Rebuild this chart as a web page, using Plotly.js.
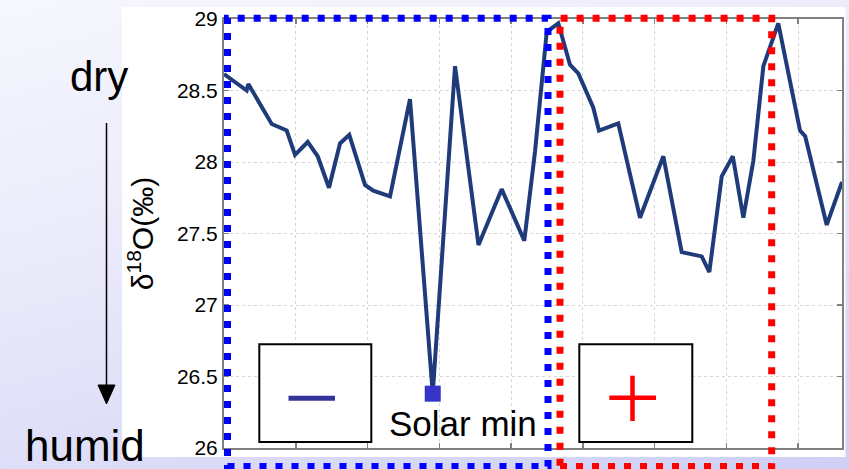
<!DOCTYPE html>
<html>
<head>
<meta charset="utf-8">
<script src="https://cdn.plot.ly/plotly-3.0.1.min.js"></script>
<style>
  html, body { margin: 0; padding: 0; }
  body { width: 849px; height: 469px; overflow: hidden;
         background: linear-gradient(165deg, #f7f7fe 0%, #e8e8fa 45%, #cfcff6 100%); }
  #chart { width: 849px; height: 469px; }
</style>
</head>
<body>
<div id="chart"></div>
<script>
// ---- data ----
const years = [0, 3.16, 3.39, 6.65, 8.74, 9.90, 11.67, 13.06, 14.63, 16.17, 17.46, 19.65, 20.81, 23.14, 25.92,
               29.09, 32.20, 35.47, 38.70, 41.85, 43.34, 44.98, 46.59, 48.22, 49.38, 51.47, 52.26, 54.95, 57.98,
               61.23, 63.79, 66.58, 67.64, 69.37, 70.91, 72.38, 73.78, 75.17, 77.25, 80.28, 81.00, 84.00, 86.13];
const delta18O = [28.615, 28.50, 28.545, 28.266, 28.22, 28.05, 28.14, 28.04, 27.82, 28.13, 28.19, 27.84, 27.80, 27.76, 28.44,
                  26.38, 28.67, 27.42, 27.81, 27.45, 28.07, 28.91, 28.97, 28.68, 28.62, 28.38, 28.22, 28.27, 27.61,
                  28.04, 27.37, 27.34, 27.23, 27.90, 28.04, 27.61, 28.01, 28.67, 28.97, 28.22, 28.18, 27.56, 27.86];
const yTickVals = [26, 26.5, 27, 27.5, 28, 28.5, 29];
const yTickText = ['26', '26.5', '27', '27.5', '28', '28.5', '29'];
const yTitle = 'δ<sup>18</sup>O(‰)';
const labelSolarMin = 'Solar min';
const labelDry = 'dry';
const labelHumid = 'humid';

// index of solar minimum
const minIdx = delta18O.indexOf(Math.min(...delta18O));

// ---- layout helpers (pixel -> paper) ----
const L = 224, R = 842, T = 19, B = 448;
const px = x => (x - L) / (R - L);
const py = y => (B - y) / (B - T);

const FONT = 'Liberation Sans, Arial, sans-serif';
const dotted = '7px,9px';

const shapes = [
  // white figure panel
  {type: 'rect', xref: 'paper', yref: 'paper', layer: 'below',
   x0: px(122), x1: px(845.5), y0: py(457), y1: py(7),
   fillcolor: '#ffffff', line: {width: 0}},
  // blue dotted frame
  {type: 'rect', xref: 'paper', yref: 'paper', layer: 'above',
   x0: px(227.5), x1: px(548), y0: py(466.5), y1: py(18.3),
   line: {color: '#0000ff', width: 7, dash: dotted}},
  // red dotted frame
  {type: 'rect', xref: 'paper', yref: 'paper', layer: 'above',
   x0: px(560), x1: px(771.7), y0: py(466.5), y1: py(18.3),
   line: {color: '#ff0000', width: 7, dash: dotted}},
  // minus box
  {type: 'rect', xref: 'paper', yref: 'paper', layer: 'above',
   x0: px(259.3), x1: px(371.3), y0: py(442), y1: py(344.3),
   fillcolor: '#ffffff', line: {color: '#000000', width: 2}},
  {type: 'line', xref: 'paper', yref: 'paper', layer: 'above',
   x0: px(288.5), x1: px(335), y0: py(398.3), y1: py(398.3),
   line: {color: '#333399', width: 5}},
  // plus box
  {type: 'rect', xref: 'paper', yref: 'paper', layer: 'above',
   x0: px(579.3), x1: px(692.3), y0: py(442), y1: py(344.3),
   fillcolor: '#ffffff', line: {color: '#000000', width: 2}},
  {type: 'line', xref: 'paper', yref: 'paper', layer: 'above',
   x0: px(609.3), x1: px(656), y0: py(397.7), y1: py(397.7),
   line: {color: '#ff0000', width: 4.5}},
  {type: 'line', xref: 'paper', yref: 'paper', layer: 'above',
   x0: px(632.5), x1: px(632.5), y0: py(375.7), y1: py(421),
   line: {color: '#ff0000', width: 4.5}},
  // dry -> humid arrow
  {type: 'line', xref: 'paper', yref: 'paper', layer: 'above',
   x0: px(106.5), x1: px(106.5), y0: py(123), y1: py(388),
   line: {color: '#000000', width: 1.5}},
  {type: 'path', xref: 'paper', yref: 'paper', layer: 'above',
   path: `M ${px(98)},${py(385)} L ${px(115)},${py(385)} L ${px(106.5)},${py(404)} Z`,
   fillcolor: '#000000', line: {color: '#000000', width: 1}}
];

const annotations = [
  {xref: 'paper', yref: 'paper', x: px(99), y: py(77), text: labelDry, showarrow: false,
   xanchor: 'center', yanchor: 'middle', font: {family: FONT, size: 42, color: '#000000'}},
  {xref: 'paper', yref: 'paper', x: px(85), y: py(445), text: labelHumid, showarrow: false,
   xanchor: 'center', yanchor: 'middle', font: {family: FONT, size: 44, color: '#000000'}},
  {xref: 'paper', yref: 'paper', x: px(462.5), y: py(423), text: labelSolarMin, showarrow: false,
   xanchor: 'center', yanchor: 'middle', font: {family: FONT, size: 35, color: '#000000'}}
];

const traces = [
  {x: years, y: delta18O, type: 'scatter', mode: 'lines',
   line: {color: '#1f3b7a', width: 4}, hoverinfo: 'skip'},
  {x: [years[minIdx]], y: [delta18O[minIdx]], type: 'scatter', mode: 'markers',
   marker: {symbol: 'square', size: 16, color: '#3434c8'}, hoverinfo: 'skip'}
];

const layout = {
  width: 849, height: 469,
  margin: {l: L, r: 849 - R, t: T, b: 469 - B, pad: 0},
  paper_bgcolor: 'rgba(0,0,0,0)',
  plot_bgcolor: '#ffffff',
  showlegend: false,
  font: {family: FONT, color: '#000000'},
  xaxis: {
    range: [0, 86.13], tick0: 0, dtick: 10, showticklabels: false,
    ticks: 'inside', ticklen: 5, tickcolor: '#808080', tickwidth: 1.5,
    showline: true, linecolor: '#808080', linewidth: 2, mirror: 'ticks',
    showgrid: true, gridcolor: '#d6d6d6', griddash: 'dot', gridwidth: 1,
    zeroline: false, fixedrange: true
  },
  yaxis: {
    range: [26, 29], tickvals: yTickVals, ticktext: yTickText,
    ticks: 'inside', ticklen: 5, tickcolor: '#808080', tickwidth: 1.5,
    tickfont: {family: FONT, size: 21, color: '#000000'},
    showline: true, linecolor: '#808080', linewidth: 2, mirror: 'ticks',
    showgrid: true, gridcolor: '#d6d6d6', griddash: 'dot', gridwidth: 1,
    zeroline: false, fixedrange: true,
    title: {text: yTitle, font: {family: FONT, size: 30, color: '#000000'}, standoff: 14}
  },
  shapes: shapes,
  annotations: annotations
};

Plotly.newPlot('chart', traces, layout, {displayModeBar: false, staticPlot: true});
</script>
</body>
</html>
